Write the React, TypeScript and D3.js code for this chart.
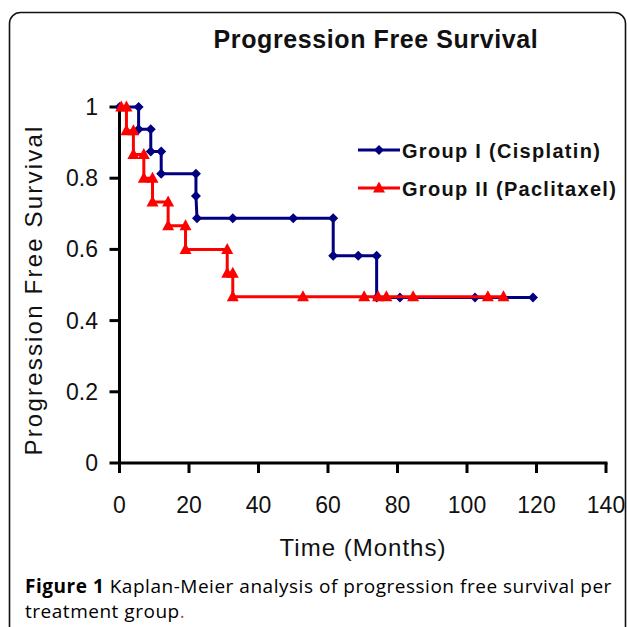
import React from "react";
import * as d3 from "d3";

const xTicks = [0, 20, 40, 60, 80, 100, 120, 140];
const yTicks = [0, 0.2, 0.4, 0.6, 0.8, 1];
const yTickLabels = ["0", "0.2", "0.4", "0.6", "0.8", "1"];

const groupITime = [0, 5.5, 5.5, 9, 9, 12, 12, 22, 22, 22.3, 32.6, 50, 61.5, 61.5, 68.7, 74, 74, 80.7, 102.3, 119];
const groupISurv = [1, 1, 0.9375, 0.9375, 0.875, 0.875, 0.8125, 0.8125, 0.75, 0.6875, 0.6875, 0.6875, 0.6875, 0.582, 0.582, 0.582, 0.465, 0.465, 0.465, 0.465];

const groupIITime = [0.5, 2, 2, 4, 4, 7, 7, 9.5, 9.5, 14, 14, 19, 19, 31, 31, 32.6, 32.6, 52.8, 70.4, 74.4, 76.8, 84.5, 106, 110.5];
const groupIISurv = [1, 1, 0.9333, 0.9333, 0.8667, 0.8667, 0.8, 0.8, 0.7333, 0.7333, 0.6667, 0.6667, 0.6, 0.6, 0.5333, 0.5333, 0.4667, 0.4667, 0.4667, 0.4667, 0.4667, 0.4667, 0.4667, 0.4667];

const seriesNames = ["Group I (Cisplatin)", "Group II (Paclitaxel)"];
const BLUE = "#000080";
const RED = "#FF0000";
const FONT = "'Liberation Sans', Arial, sans-serif";
const CAP_FONT = "'Open Sans', sans-serif";

export default function App() {
  const x = d3.scaleLinear().domain([0, 140]).range([119.5, 606]);
  const y = d3.scaleLinear().domain([0, 1]).range([463, 107]);

  const blue = groupITime.map((t, i) => [t, groupISurv[i]] as [number, number]);
  const red = groupIITime.map((t, i) => [t, groupIISurv[i]] as [number, number]);
  const line = d3
    .line<[number, number]>()
    .x((d) => x(d[0]))
    .y((d) => y(d[1]));

  const diamond = (cx: number, cy: number, r = 5) =>
    `M${cx},${cy - r}L${cx + r},${cy}L${cx},${cy + r}L${cx - r},${cy}Z`;
  const triangle = (cx: number, cy: number) =>
    `M${cx},${cy - 6.5}L${cx + 6},${cy + 4.5}L${cx - 6},${cy + 4.5}Z`;

  return (
    <svg
      width={627}
      height={627}
      style={{ position: "absolute", left: 0, top: 0, background: "#fff" }}
    >
      <rect x={9.5} y={12.5} width={616} height={720} rx={11} ry={11} fill="none" stroke="#111" strokeWidth={1.6} />

      <text x={376} y={48} textAnchor="middle" fontFamily={FONT} fontWeight="bold" fontSize={25} letterSpacing={0.6} fill="#111">
        Progression Free Survival
      </text>

      {/* Y axis */}
      <line x1={x(0)} x2={x(0)} y1={y(1) - 1.5} y2={y(0) + 1.5} stroke="#000" strokeWidth={3} />
      {yTicks.map((v, i) => (
        <g key={"y" + v}>
          <line x1={x(0) - 10} x2={x(0)} y1={y(v)} y2={y(v)} stroke="#000" strokeWidth={3} />
          <text x={98} y={y(v) + 8} textAnchor="end" fontFamily={FONT} fontSize={23} fill="#111">
            {yTickLabels[i]}
          </text>
        </g>
      ))}

      {/* X axis */}
      <line x1={x(0) - 1.5} x2={x(140) + 1.5} y1={y(0)} y2={y(0)} stroke="#000" strokeWidth={3} />
      {xTicks.map((v) => (
        <g key={"x" + v}>
          <line x1={x(v)} x2={x(v)} y1={y(0)} y2={y(0) + 10} stroke="#000" strokeWidth={3} />
          <text x={x(v)} y={513} textAnchor="middle" fontFamily={FONT} fontSize={23} fill="#111">
            {v}
          </text>
        </g>
      ))}

      <text x={363} y={556} textAnchor="middle" fontFamily={FONT} fontSize={24} letterSpacing={1} fill="#111">
        Time (Months)
      </text>
      <text
        transform={`translate(42,${290}) rotate(-90)`}
        textAnchor="middle"
        fontFamily={FONT}
        fontSize={24}
        letterSpacing={2.2}
        fill="#111"
      >
        Progression Free Survival
      </text>

      {/* Series */}
      <path d={line(blue) || ""} fill="none" stroke={BLUE} strokeWidth={3} />
      {blue.map((d, i) => (
        <path key={"b" + i} d={diamond(x(d[0]), y(d[1]))} fill={BLUE} />
      ))}
      <path d={line(red) || ""} fill="none" stroke={RED} strokeWidth={3} />
      {red.map((d, i) => (
        <path key={"r" + i} d={triangle(x(d[0]), y(d[1]))} fill={RED} />
      ))}

      {/* Legend */}
      <line x1={358} x2={400} y1={150} y2={150} stroke={BLUE} strokeWidth={3} />
      <path d={diamond(379, 150)} fill={BLUE} />
      <text x={402} y={158} fontFamily={FONT} fontWeight="bold" fontSize={20} letterSpacing={1.3} fill="#111">
        {seriesNames[0]}
      </text>
      <line x1={358} x2={400} y1={188} y2={188} stroke={RED} strokeWidth={3} />
      <path d={triangle(379, 188)} fill={RED} />
      <text x={402} y={196} fontFamily={FONT} fontWeight="bold" fontSize={20} letterSpacing={1.3} fill="#111">
        {seriesNames[1]}
      </text>

      {/* Caption */}
      <text x={25} y={593} fontFamily={CAP_FONT} fontSize={19} fontWeight={500} letterSpacing={0.52} fill="#000">
        <tspan fontWeight="bold">Figure 1</tspan> Kaplan-Meier analysis of progression free survival per
      </text>
      <text x={25} y={618} fontFamily={CAP_FONT} fontSize={19} fontWeight={500} letterSpacing={0.52} fill="#000">
        treatment group<tspan fill="#c44">.</tspan>
      </text>
    </svg>
  );
}
